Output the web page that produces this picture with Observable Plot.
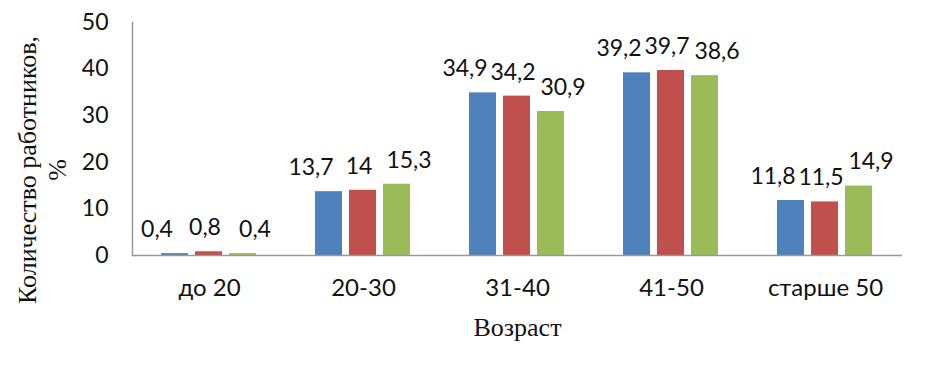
<!DOCTYPE html>
<html>
<head>
<meta charset="utf-8">
<script src="https://cdn.jsdelivr.net/npm/d3@7"></script>
<script src="https://cdn.jsdelivr.net/npm/@observablehq/plot@0.6"></script>
<style>
  html, body { margin: 0; padding: 0; background: #fff; }
  #chart svg { display: block; }
</style>
</head>
<body>
<div id="chart"></div>
<script>
const categories = ["до 20", "20-30", "31-40", "41-50", "старше 50"];
const seriesNames = ["Ряд 1", "Ряд 2", "Ряд 3"];
const series1 = [0.4, 13.7, 34.9, 39.2, 11.8];
const series2 = [0.8, 14, 34.2, 39.7, 11.5];
const series3 = [0.4, 15.3, 30.9, 38.6, 14.9];
const yTicks = [0, 10, 20, 30, 40, 50];
const colors = ["#4F81BD", "#C0504D", "#9BBB59"];
const yTitle = "Количество работников,\n%";
const xTitle = "Возраст";

const seriesValues = [series1, series2, series3];
const data = [];
categories.forEach((c, i) => {
  seriesNames.forEach((s, j) => {
    data.push({cat: c, series: s, v: seriesValues[j][i]});
  });
});
const fmt = v => String(v).replace(".", ",");
const sans = "Lato, 'Open Sans', sans-serif";
const serif = "'Liberation Serif', 'DejaVu Serif', serif";
// Excel-like spreading of the data labels of each series (style only)
const labelShift = [-18, -4, 12];

const chart = Plot.plot({
  width: 926,
  height: 370,
  marginLeft: 130,
  marginRight: 23,
  marginTop: 22,
  marginBottom: 115,
  style: {fontFamily: sans, color: "#111", background: "#fff"},
  fx: {domain: categories, padding: 0, label: null},
  x: {domain: seriesNames, paddingInner: 0.2, paddingOuter: 0.81, axis: null},
  y: {domain: [0, 50], label: null},
  color: {domain: seriesNames, range: colors},
  marks: [
    Plot.barY(data, {fx: "cat", x: "series", y: "v", fill: "series"}),
    Plot.ruleY([0], {stroke: "#999", strokeWidth: 1.5}),
    Plot.frame({anchor: "left", facet: "super", stroke: "#999", strokeWidth: 1.5}),
    ...seriesNames.map((s, j) =>
      Plot.text(data.filter(d => d.series === s), {
        fx: "cat", x: "series", y: "v", text: d => fmt(d.v),
        dx: labelShift[j], dy: -24, fontSize: 23, fill: "#111"
      })
    ),
    Plot.axisY({ticks: yTicks, tickSize: 0, tickPadding: 24, fontSize: 23, label: null}),
    Plot.axisFx({anchor: "bottom", tickSize: 0, tickPadding: 23, fontSize: 24, label: null}),
    Plot.text([xTitle], {frameAnchor: "bottom", dy: 80, fontSize: 26, fontFamily: serif, fill: "#111", facet: "super"}),
    Plot.text([yTitle], {frameAnchor: "left", textAnchor: "middle", rotate: -90, dx: -91, dy: 31, lineHeight: 1.15, fontSize: 26, fontFamily: serif, fill: "#111", facet: "super"})
  ]
});
document.getElementById("chart").appendChild(chart);
</script>
</body>
</html>
